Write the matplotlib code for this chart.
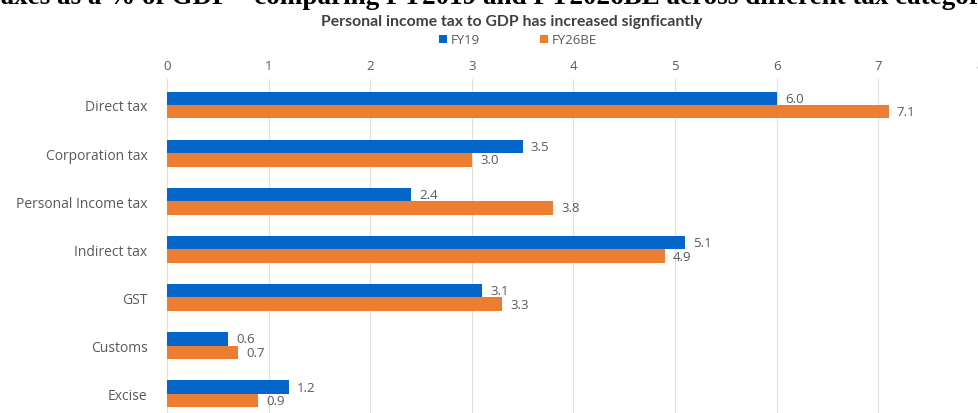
import numpy as np
import matplotlib.pyplot as plt

# data
categories = ["Direct tax", "Corporation tax", "Personal Income tax", "Indirect tax",
              "GST", "Customs", "Excise"]
fy19 = [6.0, 3.5, 2.4, 5.1, 3.1, 0.6, 1.2]
fy26be = [7.1, 3.0, 3.8, 4.9, 3.3, 0.7, 0.9]
xticks = [0, 1, 2, 3, 4, 5, 6, 7, 8]

blue = "#0466C8"
orange = "#ED7D31"
grey_txt = "#595959"
fnt = "Open Sans"

fig = plt.figure(figsize=(9.79, 4.14), dpi=100)
ax = fig.add_axes([167 / 979, 0.0, 1 - 167 / 979 + 0.001, (414 - 80) / 414])

y = np.arange(len(categories))
h = 0.28
ax.barh(y - h / 2, fy19, height=h, color=blue, label="FY19", zorder=3)
ax.barh(y + h / 2, fy26be, height=h, color=orange, label="FY26BE", zorder=3)

# value labels
for yi, v in zip(y, fy19):
    ax.text(v + 0.08, yi - h / 2, f"{v:.1f}", va="center", ha="left",
            fontsize=9.5, color=grey_txt, family=fnt)
for yi, v in zip(y, fy26be):
    ax.text(v + 0.08, yi + h / 2, f"{v:.1f}", va="center", ha="left",
            fontsize=9.5, color=grey_txt, family=fnt)

ax.set_xlim(0, 8)
ax.set_ylim(6.4, -0.54)
ax.set_yticks(y)
ax.set_yticklabels(categories, fontsize=10, color=grey_txt, family=fnt)
ax.set_xticks(xticks)
ax.set_xticklabels([str(t) for t in xticks], fontsize=9.5, color=grey_txt, family=fnt)
ax.xaxis.tick_top()
ax.tick_params(axis="y", length=0, pad=14)
ax.tick_params(axis="x", length=0, pad=5)
ax.grid(axis="x", color="#E0E0E0", linewidth=0.8, zorder=0)
for s in ["top", "right", "bottom"]:
    ax.spines[s].set_visible(False)
ax.spines["left"].set_color("#E0E0E0")

# titles (main title is cut off at the top edge as in the source image)
fig.text(498 / 979, 1 - 4 / 414,
         "Taxes as a % of GDP \u2013 comparing FY2019 and FY2026BE across different tax categories",
         ha="center", va="baseline", fontsize=19.5, fontweight="bold", family="Liberation Serif")
fig.text(512 / 979, 1 - 22 / 414, "Personal income tax to GDP has increased signficantly",
         ha="center", va="center", fontsize=11.3, fontweight="bold", color="#404040", family="Lato")

ax.legend(loc="center", bbox_to_anchor=(518 / 979, 1 - 41 / 414), bbox_transform=fig.transFigure,
          ncol=2, frameon=False, handlelength=0.6, handleheight=0.6,
          columnspacing=4.5, handletextpad=0.3, labelcolor=grey_txt,
          prop={"family": fnt, "size": 9.5})

fig.savefig("out.png", dpi=100)
